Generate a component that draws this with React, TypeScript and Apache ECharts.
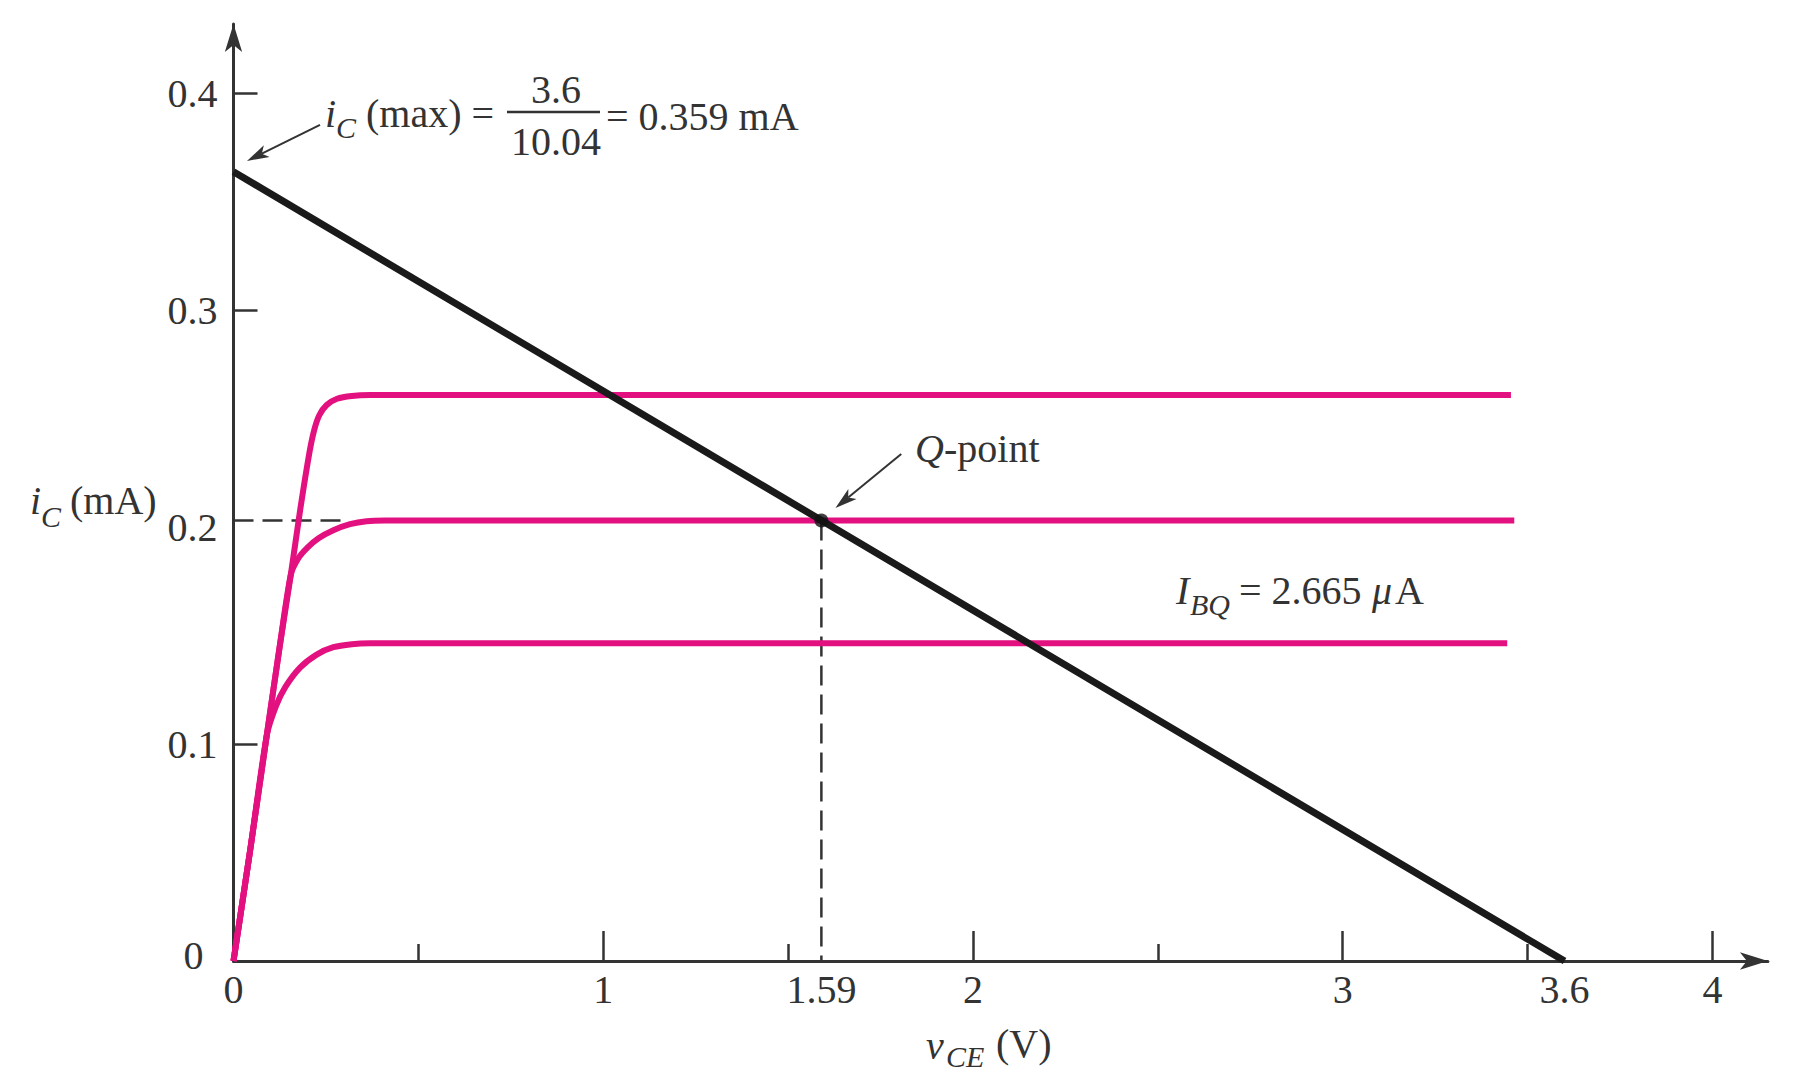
import React, { useEffect, useRef } from 'react';
import * as echarts from 'echarts';

// ---- data ----
const xLabelValues = [0, 1, 1.59, 2, 3, 3.6, 4];
const xMajorTicks = [1, 2, 3, 4];
const xMinorTicks = [0.5, 1.5, 2.5, 3.5];
const yLabelValues = [0, 0.1, 0.2, 0.3, 0.4];
const yTicks = [0.1, 0.3, 0.4];

const loadLine = [[0, 0.3637], [3.6, 0]];

const curveLow = [
  [0, 0], [0.045, 0.051], [0.09, 0.104], [0.115, 0.1175], [0.14, 0.1262], [0.18, 0.1352],
  [0.225, 0.1412], [0.27, 0.1446], [0.32, 0.146], [0.37, 0.1464], [3.445, 0.1464],
];
const curveMid = [
  [0, 0], [0.045, 0.051], [0.09, 0.104], [0.125, 0.145], [0.155, 0.178], [0.175, 0.1855],
  [0.2, 0.1905], [0.23, 0.1948], [0.27, 0.1985], [0.315, 0.2013], [0.36, 0.2027], [0.41, 0.203],
  [3.464, 0.203],
];
const curveHigh = [
  [0, 0], [0.045, 0.051], [0.09, 0.104], [0.125, 0.145], [0.155, 0.178], [0.18, 0.2075],
  [0.205, 0.234], [0.218, 0.2445], [0.232, 0.2515], [0.252, 0.2562], [0.28, 0.2591],
  [0.32, 0.2604], [0.37, 0.2608], [3.455, 0.2608],
];

const qPoint = [1.59, 0.203];
const hDash = [[0, 0.203], [0.31, 0.203]];
const vDash = [[1.59, 0.203], [1.59, 0]];
const icMaxArrow = [[0.234, 0.3853], [0.0365, 0.3687]];
const qArrow = [[1.806, 0.2336], [1.628, 0.2088]];

const X_MAX = 4.15;
const Y_MAX = 0.4318;

export default function App() {
  const ref = useRef<HTMLDivElement>(null);

  useEffect(() => {
    document.body.style.margin = '0';
    const chart = echarts.init(ref.current as HTMLDivElement, null, { renderer: 'svg' });
    const serif = '"Liberation Serif", "Times New Roman", serif';
    const ink = '#333333';
    const magenta = '#e3117f';
    const fs = 40;

    const option: any = {
      animation: false,
      backgroundColor: '#ffffff',
      grid: { left: 233.5, right: 36.1, top: 24, bottom: 127, containLabel: false, outerBoundsMode: 'none' },
      xAxis: [
        {
          type: 'value', min: 0, max: X_MAX, position: 'bottom',
          axisLine: { show: true, onZero: false, symbol: ['none', 'arrow'], symbolSize: [13, 28], lineStyle: { color: ink, width: 3 } },
          axisTick: { show: true, inside: true, length: 30, customValues: xMajorTicks, lineStyle: { color: ink, width: 2.5 } },
          axisLabel: { show: true, customValues: xLabelValues, margin: 8, fontFamily: serif, fontSize: fs, color: ink, formatter: (v: number) => String(v) },
          splitLine: { show: false },
        },
        {
          type: 'value', min: 0, max: X_MAX, position: 'bottom',
          axisLine: { show: false, onZero: false },
          axisTick: { show: true, inside: true, length: 17, customValues: xMinorTicks, lineStyle: { color: ink, width: 2.5 } },
          axisLabel: { show: false },
          splitLine: { show: false },
        },
      ],
      yAxis: {
        type: 'value', min: 0, max: Y_MAX,
        axisLine: { show: true, onZero: false, symbol: ['none', 'arrow'], symbolSize: [13, 28], lineStyle: { color: ink, width: 3 } },
        axisTick: { show: true, inside: true, length: 24, customValues: yTicks, lineStyle: { color: ink, width: 2.5 } },
        axisLabel: {
          show: true, customValues: yLabelValues, margin: 16, fontFamily: serif, fontSize: fs, color: ink,
          formatter: (v: number) => (v === 0 ? '{z|0}' : String(v)),
          rich: { z: { fontFamily: serif, fontSize: fs, color: ink, padding: [0, 14, 12, 0] } },
        },
        splitLine: { show: false },
      },
      series: [
        { type: 'line', data: hDash, showSymbol: false, silent: true, lineStyle: { color: ink, width: 2.5, type: [20, 9] }, z: 1 },
        { type: 'line', data: vDash, showSymbol: false, silent: true, lineStyle: { color: ink, width: 2.5, type: [20, 9] }, z: 1 },
        { type: 'line', data: curveLow, showSymbol: false, silent: true, smooth: 0.25, lineStyle: { color: magenta, width: 6 }, z: 2 },
        { type: 'line', data: curveMid, showSymbol: false, silent: true, smooth: 0.25, lineStyle: { color: magenta, width: 6 }, z: 2 },
        { type: 'line', data: curveHigh, showSymbol: false, silent: true, smooth: 0.25, lineStyle: { color: magenta, width: 6 }, z: 2 },
        { type: 'line', data: loadLine, showSymbol: false, silent: true, lineStyle: { color: '#1a1a1a', width: 7 }, z: 3 },
        { type: 'scatter', data: [qPoint], symbol: 'circle', symbolSize: 14, itemStyle: { color: '#111' }, silent: true, z: 4 },
      ],
    };
    chart.setOption(option);

    const px = (p: number[]) => chart.convertToPixel({ gridIndex: 0 } as any, p) as number[];
    const arrow = (from: number[], to: number[]) => {
      const s = px(from);
      const t = px(to);
      const dx = t[0] - s[0];
      const dy = t[1] - s[1];
      const len = Math.hypot(dx, dy);
      const ux = dx / len, uy = dy / len;
      const nx = -uy, ny = ux;
      const L = 22, W = 6.5;
      const b1 = [t[0] - L * ux + W * nx, t[1] - L * uy + W * ny];
      const b2 = [t[0] - L * ux - W * nx, t[1] - L * uy - W * ny];
      const notch = [t[0] - 0.75 * L * ux, t[1] - 0.75 * L * uy];
      return [
        { type: 'line', silent: true, shape: { x1: s[0], y1: s[1], x2: notch[0], y2: notch[1] }, style: { stroke: ink, lineWidth: 2 } },
        { type: 'polygon', silent: true, shape: { points: [t, b1, notch, b2] }, style: { fill: ink } },
      ];
    };

    const txt = (x: number, y: number, text: string, font: string, align = 'left') => ({
      type: 'text', x, y, silent: true,
      style: { text, font, fill: ink, textAlign: align, textVerticalAlign: 'middle' },
    });
    const reg = `${fs}px ${serif}`;
    const ital = `italic ${fs}px ${serif}`;
    const sub = `italic 30px ${serif}`;

    chart.setOption({
      graphic: [
        ...arrow(icMaxArrow[0], icMaxArrow[1]),
        ...arrow(qArrow[0], qArrow[1]),
        // y-axis name
        txt(30, 500, 'i', ital), txt(41, 516, 'C', sub), txt(70, 500, '(mA)', reg),
        // x-axis name
        txt(926, 1045, 'v', ital), txt(946, 1056, 'CE', sub), txt(996, 1043, '(V)', reg),
        // ic(max) annotation
        txt(325, 113, 'i', ital), txt(336, 127, 'C', sub), txt(366, 113, '(max) =', reg),
        txt(556, 89, '3.6', reg, 'center'),
        { type: 'line', silent: true, shape: { x1: 507, y1: 112, x2: 600, y2: 112 }, style: { stroke: ink, lineWidth: 2.5 } },
        txt(556, 141, '10.04', reg, 'center'),
        txt(606, 116, '= 0.359 mA', reg),
        // Q-point label
        txt(915, 448, 'Q', ital), txt(944, 448, '-point', reg),
        // IBQ label
        txt(1176, 590, 'I', ital), txt(1190, 604, 'BQ', sub), txt(1239, 590, '= 2.665', reg),
        txt(1372, 590, 'μ', ital), txt(1395, 590, 'A', reg),
      ],
    });

    return () => chart.dispose();
  }, []);

  return <div ref={ref} style={{ position: 'absolute', left: 0, top: 0, width: 1804, height: 1088 }} />;
}
